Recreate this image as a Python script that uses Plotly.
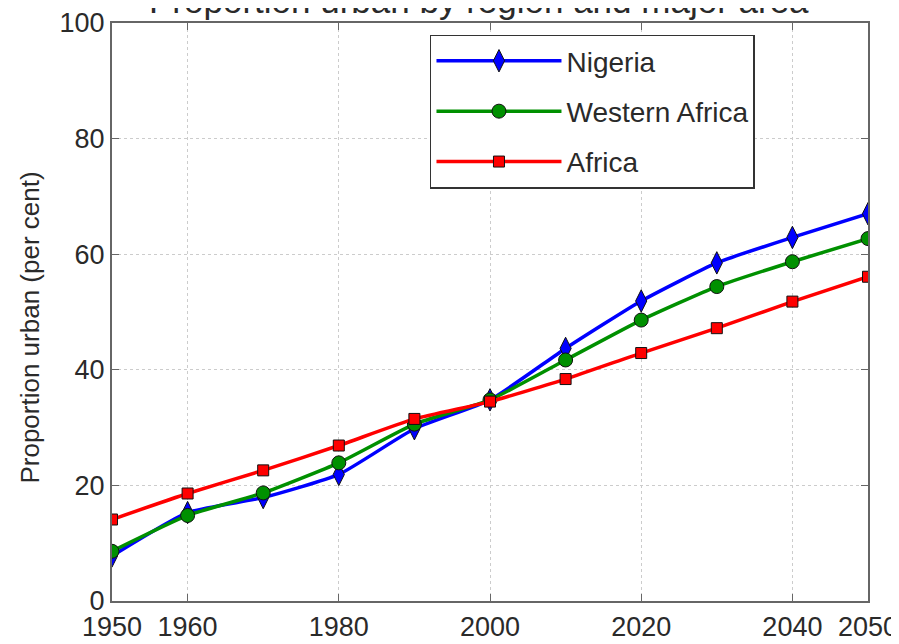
import plotly.graph_objects as go

years = [1950, 1960, 1970, 1980, 1990, 2000, 2010, 2020, 2030, 2040, 2050]
nigeria = [7.8, 15.3, 17.9, 21.9, 29.8, 34.8, 43.7, 51.9, 58.5, 62.9, 67.0]
western_africa = [8.6, 14.8, 18.7, 23.9, 30.6, 34.8, 41.7, 48.6, 54.4, 58.7, 62.7]
africa = [14.1, 18.6, 22.6, 26.9, 31.5, 34.5, 38.4, 42.9, 47.2, 51.8, 56.1]

x_ticks = [1950, 1960, 1980, 2000, 2020, 2040, 2050]
y_ticks = [0, 20, 40, 60, 80, 100]

title_text = "Proportion urban by region and major area"
y_title = "Proportion urban (per cent)"

font_family = "Liberation Sans, Arial, sans-serif"

fig = go.Figure()
series = [
    ("Nigeria", nigeria, "#0000ff", "diamond-tall", 16),
    ("Western Africa", western_africa, "#009000", "circle", 14),
    ("Africa", africa, "#ff0000", "square", 11),
]
for i, (name, vals, color, sym, size) in enumerate(series):
    fig.add_trace(go.Scatter(
        x=years, y=vals, name=name, mode="lines+markers",
        legendgroup=f"g{i}",
        line=dict(color=color, width=3.5, shape="spline", smoothing=0.5),
        marker=dict(symbol=sym, size=size, color=color,
                    line=dict(color="#111111", width=1)),
    ))

axis_common = dict(
    showline=True, linecolor="#666666", linewidth=2, mirror="ticks",
    ticks="inside", ticklen=7, tickcolor="#666666",
    showgrid=True, gridcolor="#cccccc", griddash="dot", gridwidth=1,
    zeroline=False, automargin=False, ticklabeloverflow="allow",
    tickfont=dict(family=font_family, size=27, color="#2a2a2a"),
)

fig.update_layout(
    width=891, height=636,
    paper_bgcolor="white", plot_bgcolor="white",
    margin=dict(l=104, r=31, t=15, b=43),
    xaxis=dict(range=[1950, 2050], tickvals=x_ticks, ticklabelstandoff=1, **axis_common),
    yaxis=dict(range=[0, 100], tickvals=y_ticks, ticklabelstandoff=0, **axis_common),
    legend=dict(x=0.4206, y=0.98, xanchor="left", yanchor="top",
                bgcolor="white", bordercolor="#333333", borderwidth=1.5,
                font=dict(family=font_family, size=28, color="#2a2a2a"),
                traceorder="grouped", tracegroupgap=11,
                itemwidth=125),
    showlegend=True,
    annotations=[
        dict(text=title_text, xref="paper", yref="paper",
             x=0.485, y=1.039, xanchor="center", yanchor="middle",
             showarrow=False,
             font=dict(family=font_family, size=35, color="#2a2a2a")),
        dict(text=y_title, xref="paper", yref="paper",
             x=-0.1085, y=0.473, xanchor="center", yanchor="middle",
             textangle=-90, showarrow=False,
             font=dict(family=font_family, size=26, color="#2a2a2a")),
    ],
)

fig.write_html("out.html")
